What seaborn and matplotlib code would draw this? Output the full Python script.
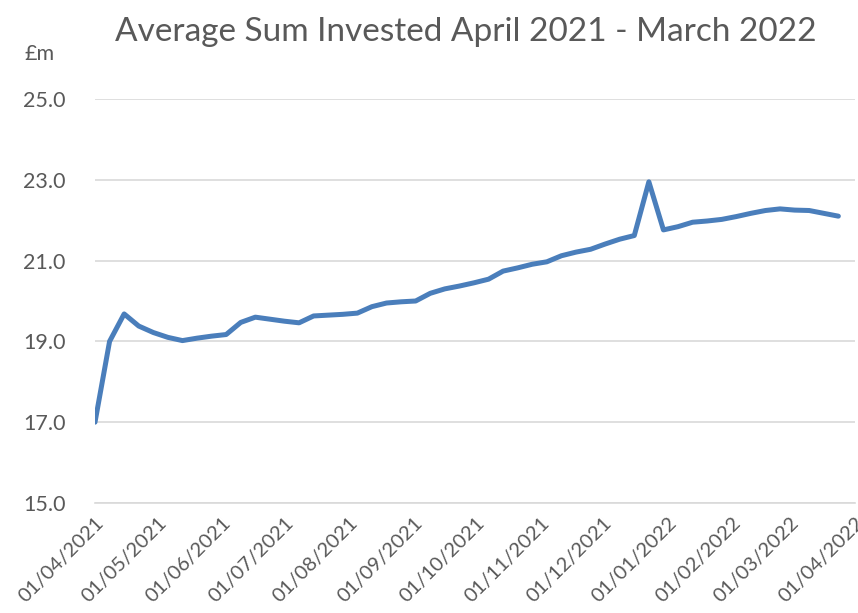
import pandas as pd
import seaborn as sns
import matplotlib.pyplot as plt
import matplotlib.dates as mdates

# weekly observations starting 01/04/2021
start_date = '2021-04-01'
avg_invested = [
    17.00, 19.00, 19.68, 19.38, 19.22, 19.10, 19.02, 19.08, 19.13, 19.17,
    19.47, 19.60, 19.55, 19.50, 19.46, 19.63, 19.65, 19.67, 19.70, 19.86,
    19.95, 19.98, 20.00, 20.19, 20.30, 20.37, 20.45, 20.54, 20.74, 20.82,
    20.91, 20.97, 21.12, 21.21, 21.28, 21.41, 21.53, 21.62, 22.95, 21.76,
    21.84, 21.95, 21.98, 22.02, 22.09, 22.17, 22.24, 22.28, 22.25, 22.24,
    22.17, 22.10,
]
y_ticks = [15.0, 17.0, 19.0, 21.0, 23.0, 25.0]
month_ticks = pd.date_range('2021-04-01', '2022-04-01', freq='MS')

df = pd.DataFrame({
    'date': pd.date_range(start_date, periods=len(avg_invested), freq='7D'),
    'value': avg_invested,
})

sns.set_style('white')
plt.rcParams['font.family'] = ['Lato', 'DejaVu Sans']

grey = '#595959'
fig = plt.figure(figsize=(8.58, 6.13), dpi=100)
ax = fig.add_axes([95 / 858, 1 - 503 / 613, 760 / 858, 404 / 613])

sns.lineplot(x='date', y='value', data=df, ax=ax, color='#4a7ebb', linewidth=3.6)

ax.set_ylim(15, 25)
ax.set_yticks(y_ticks)
ax.set_yticklabels([f'{v:.1f}' for v in y_ticks])
ax.set_xlim(month_ticks[0], month_ticks[-1])
ax.set_xticks(month_ticks)
ax.xaxis.set_major_formatter(mdates.DateFormatter('%d/%m/%Y'))

ax.grid(axis='y', color='#d9d9d9', linewidth=1.2)
ax.set_axisbelow(True)
for side in ['top', 'right', 'left']:
    ax.spines[side].set_visible(False)
ax.spines['bottom'].set_color('#d9d9d9')
ax.spines['bottom'].set_linewidth(1.2)

ax.tick_params(axis='y', length=0, labelsize=15.5, labelcolor=grey, pad=21)
ax.tick_params(axis='x', length=6, width=1.2, color='#d9d9d9', direction='out',
               labelsize=14.5, labelcolor=grey, pad=2)
plt.setp(ax.get_xticklabels(), rotation=45, ha='right', rotation_mode='anchor')
ax.set_xlabel('')
ax.set_ylabel('')

fig.text(466 / 858, 1 - 41 / 613, 'Average Sum Invested April 2021 - March 2022',
         ha='center', va='baseline', fontsize=24, color=grey)
fig.text(40 / 858, 1 - 54 / 613, '£m', ha='center', va='center', fontsize=15.5, color=grey)

fig.savefig('out.png', dpi=100)
plt.close(fig)
